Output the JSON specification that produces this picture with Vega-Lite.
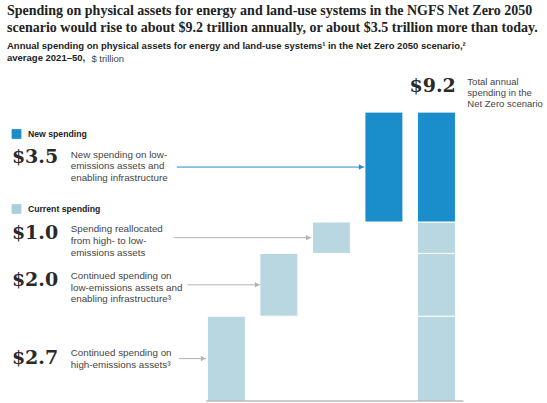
{
  "$schema": "https://vega.github.io/schema/vega-lite/v6.json",
  "width": 547,
  "height": 335,
  "autosize": {"type": "none"},
  "padding": {"top": 68, "left": 0, "right": 0, "bottom": 0},
  "background": "white",
  "config": {"view": {"stroke": null}},
  "title": {
    "text": ["Spending on physical assets for energy and land-use systems in the NGFS Net Zero 2050", "scenario would rise to about $9.2 trillion annually, or about $3.5 trillion more than today."],
    "subtitle": ["Annual spending on physical assets for energy and land-use systems¹ in the Net Zero 2050 scenario,²", "average 2021–50,"],
    "anchor": "start",
    "frame": "group",
    "dx": 7,
    "dy": 14,
    "offset": 6,
    "font": "Liberation Serif",
    "fontSize": 14,
    "fontWeight": "bold",
    "color": "#222222",
    "lineHeight": 17,
    "subtitleFont": "Liberation Sans",
    "subtitleFontSize": 9.5,
    "subtitleFontWeight": "bold",
    "subtitleColor": "#222222",
    "subtitleLineHeight": 12,
    "subtitlePadding": 6
  },
  "datasets": {
    "bars": [
      {"pos": 1, "start": 0, "end": 2.7, "type": "current"},
      {"pos": 2, "start": 2.7, "end": 4.7, "type": "current"},
      {"pos": 3, "start": 4.7, "end": 5.7, "type": "current"},
      {"pos": 4, "start": 5.7, "end": 9.2, "type": "new"},
      {"pos": 5, "start": 0, "end": 2.7, "type": "current"},
      {"pos": 5, "start": 2.7, "end": 4.7, "type": "current"},
      {"pos": 5, "start": 4.7, "end": 5.7, "type": "current"},
      {"pos": 5, "start": 5.7, "end": 9.2, "type": "new"}
    ],
    "legend": [
      {"type": "new", "label": "New spending", "ly": 8.503},
      {"type": "current", "label": "Current spending", "ly": 6.115}
    ],
    "notes": [
      {"type": "new", "value": "$3.5", "desc": ["New spending on low-", "emissions assets and", "enabling infrastructure"], "mid": 7.45, "ty": 7.85, "ny": 7.755, "x0": 0.056, "x1": 3.626},
      {"type": "current", "value": "$1.0", "desc": ["Spending reallocated", "from high- to low-", "emissions assets"], "mid": 5.2, "ty": 5.478, "ny": 5.35, "x0": 0.0, "x1": 2.617},
      {"type": "current", "value": "$2.0", "desc": ["Continued spending on", "low-emissions assets and", "enabling infrastructure³"], "mid": 3.7, "ty": 3.99, "ny": 3.854, "x0": 0.26, "x1": 1.645},
      {"type": "current", "value": "$2.7", "desc": ["Continued spending on", "high-emissions assets³"], "mid": 1.35, "ty": 1.529, "ny": 1.354, "x0": 0.093, "x1": 0.617}
    ],
    "total": [
      {"value": "$9.2", "desc": ["Total annual", "spending in the", "Net Zero scenario"]}
    ]
  },
  "resolve": {"scale": {"color": "independent"}},
  "layer": [
    {
      "data": {"name": "bars"},
      "mark": {"type": "bar", "width": 38, "stroke": "white", "strokeWidth": 1},
      "encoding": {
        "x": {"field": "pos", "type": "quantitative", "axis": null, "scale": {"domain": [-3.215, 7.01], "nice": false, "zero": false}},
        "y": {"field": "start", "type": "quantitative", "axis": null, "scale": {"domain": [-0.064, 10.605], "nice": false, "zero": false}},
        "y2": {"field": "end"},
        "color": {"field": "type", "type": "nominal", "legend": null, "scale": {"domain": ["new", "current"], "range": ["#1a8dcb", "#b9d7e1"]}}
      }
    },
    {
      "data": {"values": [{}]},
      "mark": {"type": "rule", "color": "#9a9a9a", "strokeWidth": 1},
      "encoding": {
        "x": {"datum": 0.617, "type": "quantitative"},
        "x2": {"datum": 5.514},
        "y": {"datum": 0, "type": "quantitative"}
      }
    },
    {
      "data": {"name": "legend"},
      "mark": {"type": "square", "size": 95, "filled": true, "opacity": 1},
      "encoding": {
        "x": {"datum": -2.996, "type": "quantitative"},
        "y": {"field": "ly", "type": "quantitative"},
        "color": {"field": "type", "type": "nominal", "legend": null, "scale": {"domain": ["new", "current"], "range": ["#1a8dcb", "#a9cfde"]}}
      }
    },
    {
      "data": {"name": "legend"},
      "mark": {"type": "text", "align": "left", "baseline": "middle", "font": "Liberation Sans", "fontSize": 8.7, "fontWeight": "bold", "color": "#222222"},
      "encoding": {
        "x": {"datum": -2.779, "type": "quantitative"},
        "y": {"field": "ly", "type": "quantitative"},
        "text": {"field": "label"}
      }
    },
    {
      "data": {"name": "notes"},
      "mark": {"type": "text", "align": "left", "baseline": "middle", "font": "DejaVu Serif", "fontSize": 19, "fontWeight": "bold", "color": "#2a2a2a"},
      "encoding": {
        "x": {"datum": -3.084, "type": "quantitative"},
        "y": {"field": "ny", "type": "quantitative"},
        "text": {"field": "value"}
      }
    },
    {
      "data": {"name": "notes"},
      "mark": {"type": "text", "align": "left", "baseline": "middle", "font": "Liberation Sans", "fontSize": 9.8, "lineHeight": 11.8, "color": "#444444"},
      "encoding": {
        "x": {"datum": -1.963, "type": "quantitative"},
        "y": {"field": "ty", "type": "quantitative"},
        "text": {"field": "desc"}
      }
    },
    {
      "data": {"name": "notes"},
      "mark": {"type": "rule", "strokeWidth": 1},
      "encoding": {
        "x": {"field": "x0", "type": "quantitative"},
        "x2": {"field": "x1"},
        "y": {"field": "mid", "type": "quantitative"},
        "color": {"field": "type", "type": "nominal", "legend": null, "scale": {"domain": ["new", "current"], "range": ["#2a8cc4", "#b3b3b3"]}}
      }
    },
    {
      "data": {"name": "notes"},
      "mark": {"type": "point", "shape": "triangle-right", "size": 30, "filled": true, "opacity": 1},
      "encoding": {
        "x": {"field": "x1", "type": "quantitative"},
        "xOffset": {"value": -3},
        "y": {"field": "mid", "type": "quantitative"},
        "color": {"field": "type", "type": "nominal", "legend": null, "scale": {"domain": ["new", "current"], "range": ["#2a8cc4", "#b3b3b3"]}}
      }
    },
    {
      "data": {"name": "total"},
      "mark": {"type": "text", "align": "left", "baseline": "middle", "font": "DejaVu Serif", "fontSize": 19, "fontWeight": "bold", "color": "#2a2a2a"},
      "encoding": {
        "x": {"datum": 4.486, "type": "quantitative"},
        "y": {"datum": 10.03, "type": "quantitative"},
        "text": {"field": "value"}
      }
    },
    {
      "data": {"name": "total"},
      "mark": {"type": "text", "align": "left", "baseline": "middle", "font": "Liberation Sans", "fontSize": 9.5, "lineHeight": 11, "color": "#444444"},
      "encoding": {
        "x": {"datum": 5.589, "type": "quantitative"},
        "y": {"datum": 10.175, "type": "quantitative"},
        "text": {"field": "desc"}
      }
    },
    {
      "data": {"values": [{"unit": "$ trillion"}]},
      "mark": {"type": "text", "align": "left", "baseline": "middle", "font": "Liberation Sans", "fontSize": 9.5, "color": "#444444"},
      "encoding": {
        "x": {"datum": -1.57, "type": "quantitative"},
        "y": {"datum": 10.89, "type": "quantitative"},
        "text": {"field": "unit"}
      }
    }
  ]
}
